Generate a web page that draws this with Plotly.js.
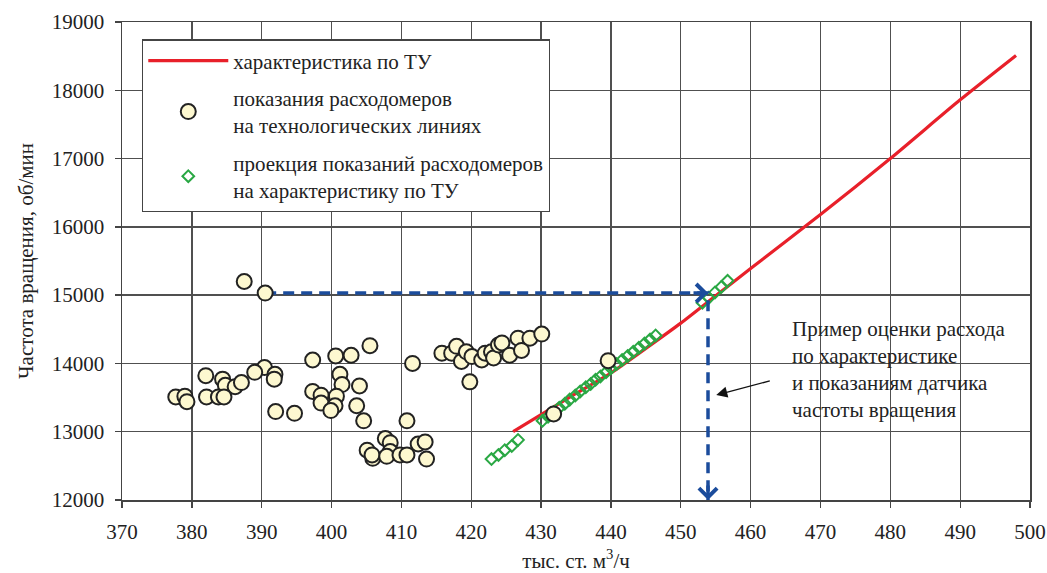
<!DOCTYPE html>
<html>
<head>
<meta charset="utf-8">
<script src="https://cdn.plot.ly/plotly-3.0.1.min.js"></script>
<style>
  html, body { margin: 0; padding: 0; background: #ffffff; }
  #chart { width: 1047px; height: 573px; }
</style>
</head>
<body>
<div id="chart"></div>
<script>
// Характеристика нагнетателя по ТУ: расход (тыс. ст. м3/ч) -> частота вращения (об/мин)
const tuFlow  = [426, 430, 435, 440, 445, 450, 455, 460, 470, 480, 490, 498];
const tuSpeed = [13000, 13250, 13560, 13860, 14220, 14590, 14990, 15390, 16180, 17000, 17860, 18510];

// Показания расходомеров на технологических линиях
const meterFlow = [
  387.5, 390.5, 397.3, 390.4, 389.0, 391.9, 391.8, 382.0, 384.4, 384.8,
  386.2, 387.1, 382.1, 383.8, 384.6, 377.7, 379.0, 379.3, 397.3, 398.5,
  398.5, 392.0, 394.7, 400.6, 402.8, 405.5, 411.6, 401.2, 401.5, 404.0,
  400.7, 400.5, 399.9, 403.6, 404.6, 410.8, 407.7, 408.4, 405.1, 405.9,
  405.8, 408.4, 407.9, 409.8, 410.8, 412.4, 413.4, 413.6, 415.8, 417.2,
  417.9, 418.6, 419.3, 420.1, 419.8, 421.5, 422.0, 422.9, 423.2, 423.9,
  424.4, 425.5, 426.7, 427.2, 428.4, 430.1, 439.6, 431.8
];
const meterSpeed = [
  15200, 15030, 14050, 13940, 13870, 13840, 13770, 13820, 13770, 13680,
  13660, 13720, 13510, 13510, 13510, 13510, 13520, 13440, 13590, 13535,
  13420, 13295, 13270, 14110, 14120, 14260, 14000, 13840, 13690, 13670,
  13520, 13380, 13310, 13380, 13160, 13160, 12900, 12840, 12730, 12610,
  12660, 12710, 12640, 12660, 12660, 12820, 12850, 12600, 14150, 14150,
  14250, 14030, 14170, 14100, 13730, 14050, 14150, 14170, 14080, 14270,
  14300, 14120, 14370, 14190, 14370, 14430, 14040, 13260
];

// Проекция показаний расходомеров на характеристику по ТУ
const projFlow = [
  422.9, 423.9, 424.8, 425.8, 426.7,
  430.2, 431.0, 431.8, 432.6, 433.4, 434.1, 434.9, 435.6, 436.4, 437.1, 437.8,
  438.5, 439.3, 440.0, 440.8, 441.6, 442.4, 443.2, 444.0, 444.8, 445.6, 446.4,
  453.1, 454.0, 454.9, 455.8, 456.7
];
const projSpeed = [
  12600, 12660, 12730, 12790, 12880,
  13160, 13220, 13290, 13350, 13410, 13470, 13530, 13590, 13650, 13700, 13760,
  13810, 13870, 13930, 13990, 14050, 14110, 14170, 14230, 14290, 14350, 14410,
  14890, 14960, 15040, 15120, 15210
];

// Пример: показание датчика частоты вращения и расход по характеристике
const exampleMeterFlow = 390.5;
const exampleSpeed = 15030;
const exampleTuFlow = 453.9;

const xTicks = [370, 380, 390, 400, 410, 420, 430, 440, 450, 460, 470, 480, 490, 500];
const yTicks = [12000, 13000, 14000, 15000, 16000, 17000, 18000, 19000];

const noteLines = [
  'Пример оценки расхода',
  'по характеристике',
  'и показаниям датчика',
  'частоты вращения'
];

const FONT = '"Liberation Serif", "Times New Roman", serif';
const TEXT = '#222222';
const BLUE = '#1b4c9c';

const traces = [
  {
    x: tuFlow, y: tuSpeed, type: 'scatter', mode: 'lines',
    name: 'характеристика по ТУ', legendgroup: 'a',
    line: { color: '#e8202a', width: 3.2, shape: 'spline', smoothing: 0.6 },
    legendrank: 1
  },
  {
    x: projFlow, y: projSpeed, type: 'scatter', mode: 'markers',
    name: 'проекция показаний расходомеров<br>на характеристику по ТУ', legendgroup: 'c',
    marker: { symbol: 'diamond-open', size: 9, color: '#2aa844', line: { width: 2, color: '#2aa844' } },
    legendrank: 3
  },
  {
    x: [exampleMeterFlow, exampleTuFlow, exampleTuFlow],
    y: [exampleSpeed, exampleSpeed, yTicks[0]],
    type: 'scatter', mode: 'lines', showlegend: false, hoverinfo: 'skip',
    line: { color: BLUE, width: 3.5, dash: '11px,7px' },
    cliponaxis: false
  },
  {
    x: meterFlow, y: meterSpeed, type: 'scatter', mode: 'markers',
    name: 'показания расходомеров<br>на технологических линиях', legendgroup: 'b',
    marker: { symbol: 'circle', size: 15, color: '#fdf8d0', line: { width: 2, color: '#222222' } },
    legendrank: 2
  }
];

const annotations = [
  // стрелка к расходу по характеристике
  {
    x: exampleTuFlow, y: exampleSpeed, xref: 'x', yref: 'y',
    ax: -16, ay: 0, showarrow: true, arrowhead: 4, arrowsize: 1,
    arrowwidth: 3.5, arrowcolor: BLUE, standoff: 0, text: ''
  },
  // стрелка к оси расхода
  {
    x: exampleTuFlow, y: yTicks[0], xref: 'x', yref: 'y',
    ax: 0, ay: -16, showarrow: true, arrowhead: 4, arrowsize: 1,
    arrowwidth: 3.5, arrowcolor: BLUE, standoff: 0, text: ''
  },
  // указатель от пояснения
  {
    x: 454.8, y: 13530, xref: 'x', yref: 'y',
    ax: 57, ay: -15, showarrow: true, arrowhead: 2, arrowsize: 1.7,
    arrowwidth: 1.3, arrowcolor: '#111111', standoff: 2, text: ''
  }
];

noteLines.forEach((t, i) => {
  annotations.push({
    x: 465.6, y: 14000, xref: 'x', yref: 'y',
    xanchor: 'left', yanchor: 'middle', align: 'left',
    yshift: 34 - i * 26.7,
    showarrow: false, text: t,
    font: { family: FONT, size: 21, color: TEXT }
  });
});

const layout = {
  width: 1047, height: 573,
  margin: { l: 122, r: 17, t: 22, b: 73, pad: 0 },
  paper_bgcolor: '#ffffff', plot_bgcolor: '#ffffff',
  font: { family: FONT, size: 21, color: TEXT },
  showlegend: true,
  legend: {
    x: 0.022, y: 0.964, xanchor: 'left', yanchor: 'top',
    bgcolor: '#ffffff', bordercolor: '#444444', borderwidth: 1.3,
    font: { family: FONT, size: 21, color: TEXT },
    traceorder: 'grouped', tracegroupgap: 7, valign: 'middle',
    itemsizing: 'trace', itemwidth: 80
  },
  xaxis: {
    range: [370, 500], tickmode: 'array', tickvals: xTicks,
    ticktext: xTicks.map(String),
    ticks: 'outside', ticklen: 6, tickwidth: 1.3, tickcolor: '#444444',
    ticklabelstandoff: 6,
    showgrid: true, gridcolor: '#505050', gridwidth: 1.3,
    showline: true, linecolor: '#444444', linewidth: 1.5, mirror: true,
    zeroline: false,
    tickfont: { family: FONT, size: 21, color: TEXT },
    title: { text: 'тыс. ст. м<sup>3</sup>/ч', font: { family: FONT, size: 21, color: TEXT }, standoff: 14 }
  },
  yaxis: {
    range: [12000, 19000], tickmode: 'array', tickvals: yTicks,
    ticktext: yTicks.map(String),
    ticks: 'outside', ticklen: 6, tickwidth: 1.3, tickcolor: '#444444',
    ticklabelstandoff: 6,
    showgrid: true, gridcolor: '#505050', gridwidth: 1.3,
    showline: true, linecolor: '#444444', linewidth: 1.5, mirror: true,
    zeroline: false,
    tickfont: { family: FONT, size: 21, color: TEXT },
    title: { text: 'Частота вращения, об/мин', font: { family: FONT, size: 21, color: TEXT }, standoff: 12 }
  },
  annotations: annotations
};

Plotly.newPlot('chart', traces, layout, { displayModeBar: false, staticPlot: true });
</script>
</body>
</html>
